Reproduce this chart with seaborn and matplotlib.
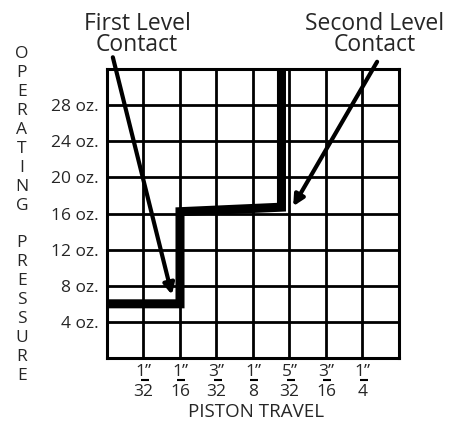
import matplotlib
matplotlib.use('Agg')
import matplotlib.pyplot as plt
import seaborn as sns
import pandas as pd

# Data
travel = [0, 2, 2, 4.78, 4.78]          # grid units (1 unit = one column)
pressure = [6.0, 6.0, 16.2, 16.7, 32.0]  # oz.
x_ticks = [0, 1, 2, 3, 4, 5, 6, 7, 8]
x_nums = ['', '1', '1', '3', '1', '5', '3', '1', '']
x_dens = ['', '32', '16', '32', '8', '32', '16', '4', '']
y_ticks = [0, 4, 8, 12, 16, 20, 24, 28, 32]
y_labels = ['', '4 oz.', '8 oz.', '12 oz.', '16 oz.', '20 oz.', '24 oz.', '28 oz.', '']

df = pd.DataFrame({'travel': travel, 'pressure': pressure})

sns.set_style('white')
plt.rcParams['font.family'] = ['Open Sans', 'DejaVu Sans']

fig = plt.figure(figsize=(4.64, 4.28), dpi=100)
ax = fig.add_axes([107 / 464, 1 - 358 / 428, 292 / 464, 289 / 428])

sns.lineplot(data=df, x='travel', y='pressure', sort=False, estimator=None,
             color='black', linewidth=6.5, ax=ax, zorder=3)
ax.lines[-1].set_solid_capstyle('butt')
ax.lines[-1].set_solid_joinstyle('miter')

ax.set_xlim(0, 8)
ax.set_ylim(0, 32)
ax.set_xticks(x_ticks)
ax.set_xticklabels([''] * len(x_ticks))
ax.set_yticks(y_ticks)
ax.set_yticklabels(y_labels, fontsize=12.5)
ax.tick_params(length=0, pad=6)
ax.grid(True, color='black', linewidth=2)
for s in ax.spines.values():
    s.set_visible(True)
    s.set_color('black')
    s.set_linewidth(2.2)
ax.set_xlabel('')
ax.set_ylabel('')

# fraction tick labels
for x, n, d in zip(x_ticks, x_nums, x_dens):
    if not n:
        continue
    ax.annotate(n + '\u201d', xy=(x, 0), xytext=(0, -4.5),
                textcoords='offset points', ha='center', va='top', fontsize=12.5)
    ax.annotate(d, xy=(x, 0), xytext=(0, -19),
                textcoords='offset points', ha='center', va='top', fontsize=12.5)
    ax.plot([x - 0.08, x + 0.14], [-2.4, -2.4], color='black', lw=1.5,
            clip_on=False, solid_capstyle='butt')

fig.text(256 / 464, 1 - 412 / 428, 'PISTON TRAVEL', ha='center', va='center', fontsize=13.5)

# vertical stacked y label
letters = 'OPERATING PRESSURE'
for i, ch in enumerate(letters):
    fig.text(22 / 464, 1 - (54 + i * 18.94) / 428, ch, ha='center', va='center', fontsize=12.5)

# callouts
fig.text(137 / 464, 1 - 12 / 428, 'First Level\nContact', ha='center', va='top',
         fontsize=16.5, linespacing=0.86)
fig.text(375 / 464, 1 - 12 / 428, 'Second Level\nContact', ha='center', va='top',
         fontsize=16.5, linespacing=0.86)
arrow = dict(arrowstyle='-|>', lw=3, mutation_scale=16, color='black',
             shrinkA=0, shrinkB=0)
ax.annotate('', xy=(1.78, 7.0), xytext=(0.16, 33.3), arrowprops=arrow,
            annotation_clip=False)
ax.annotate('', xy=(5.10, 16.8), xytext=(7.40, 32.8), arrowprops=arrow,
            annotation_clip=False)

fig.savefig('out.png', dpi=100)
